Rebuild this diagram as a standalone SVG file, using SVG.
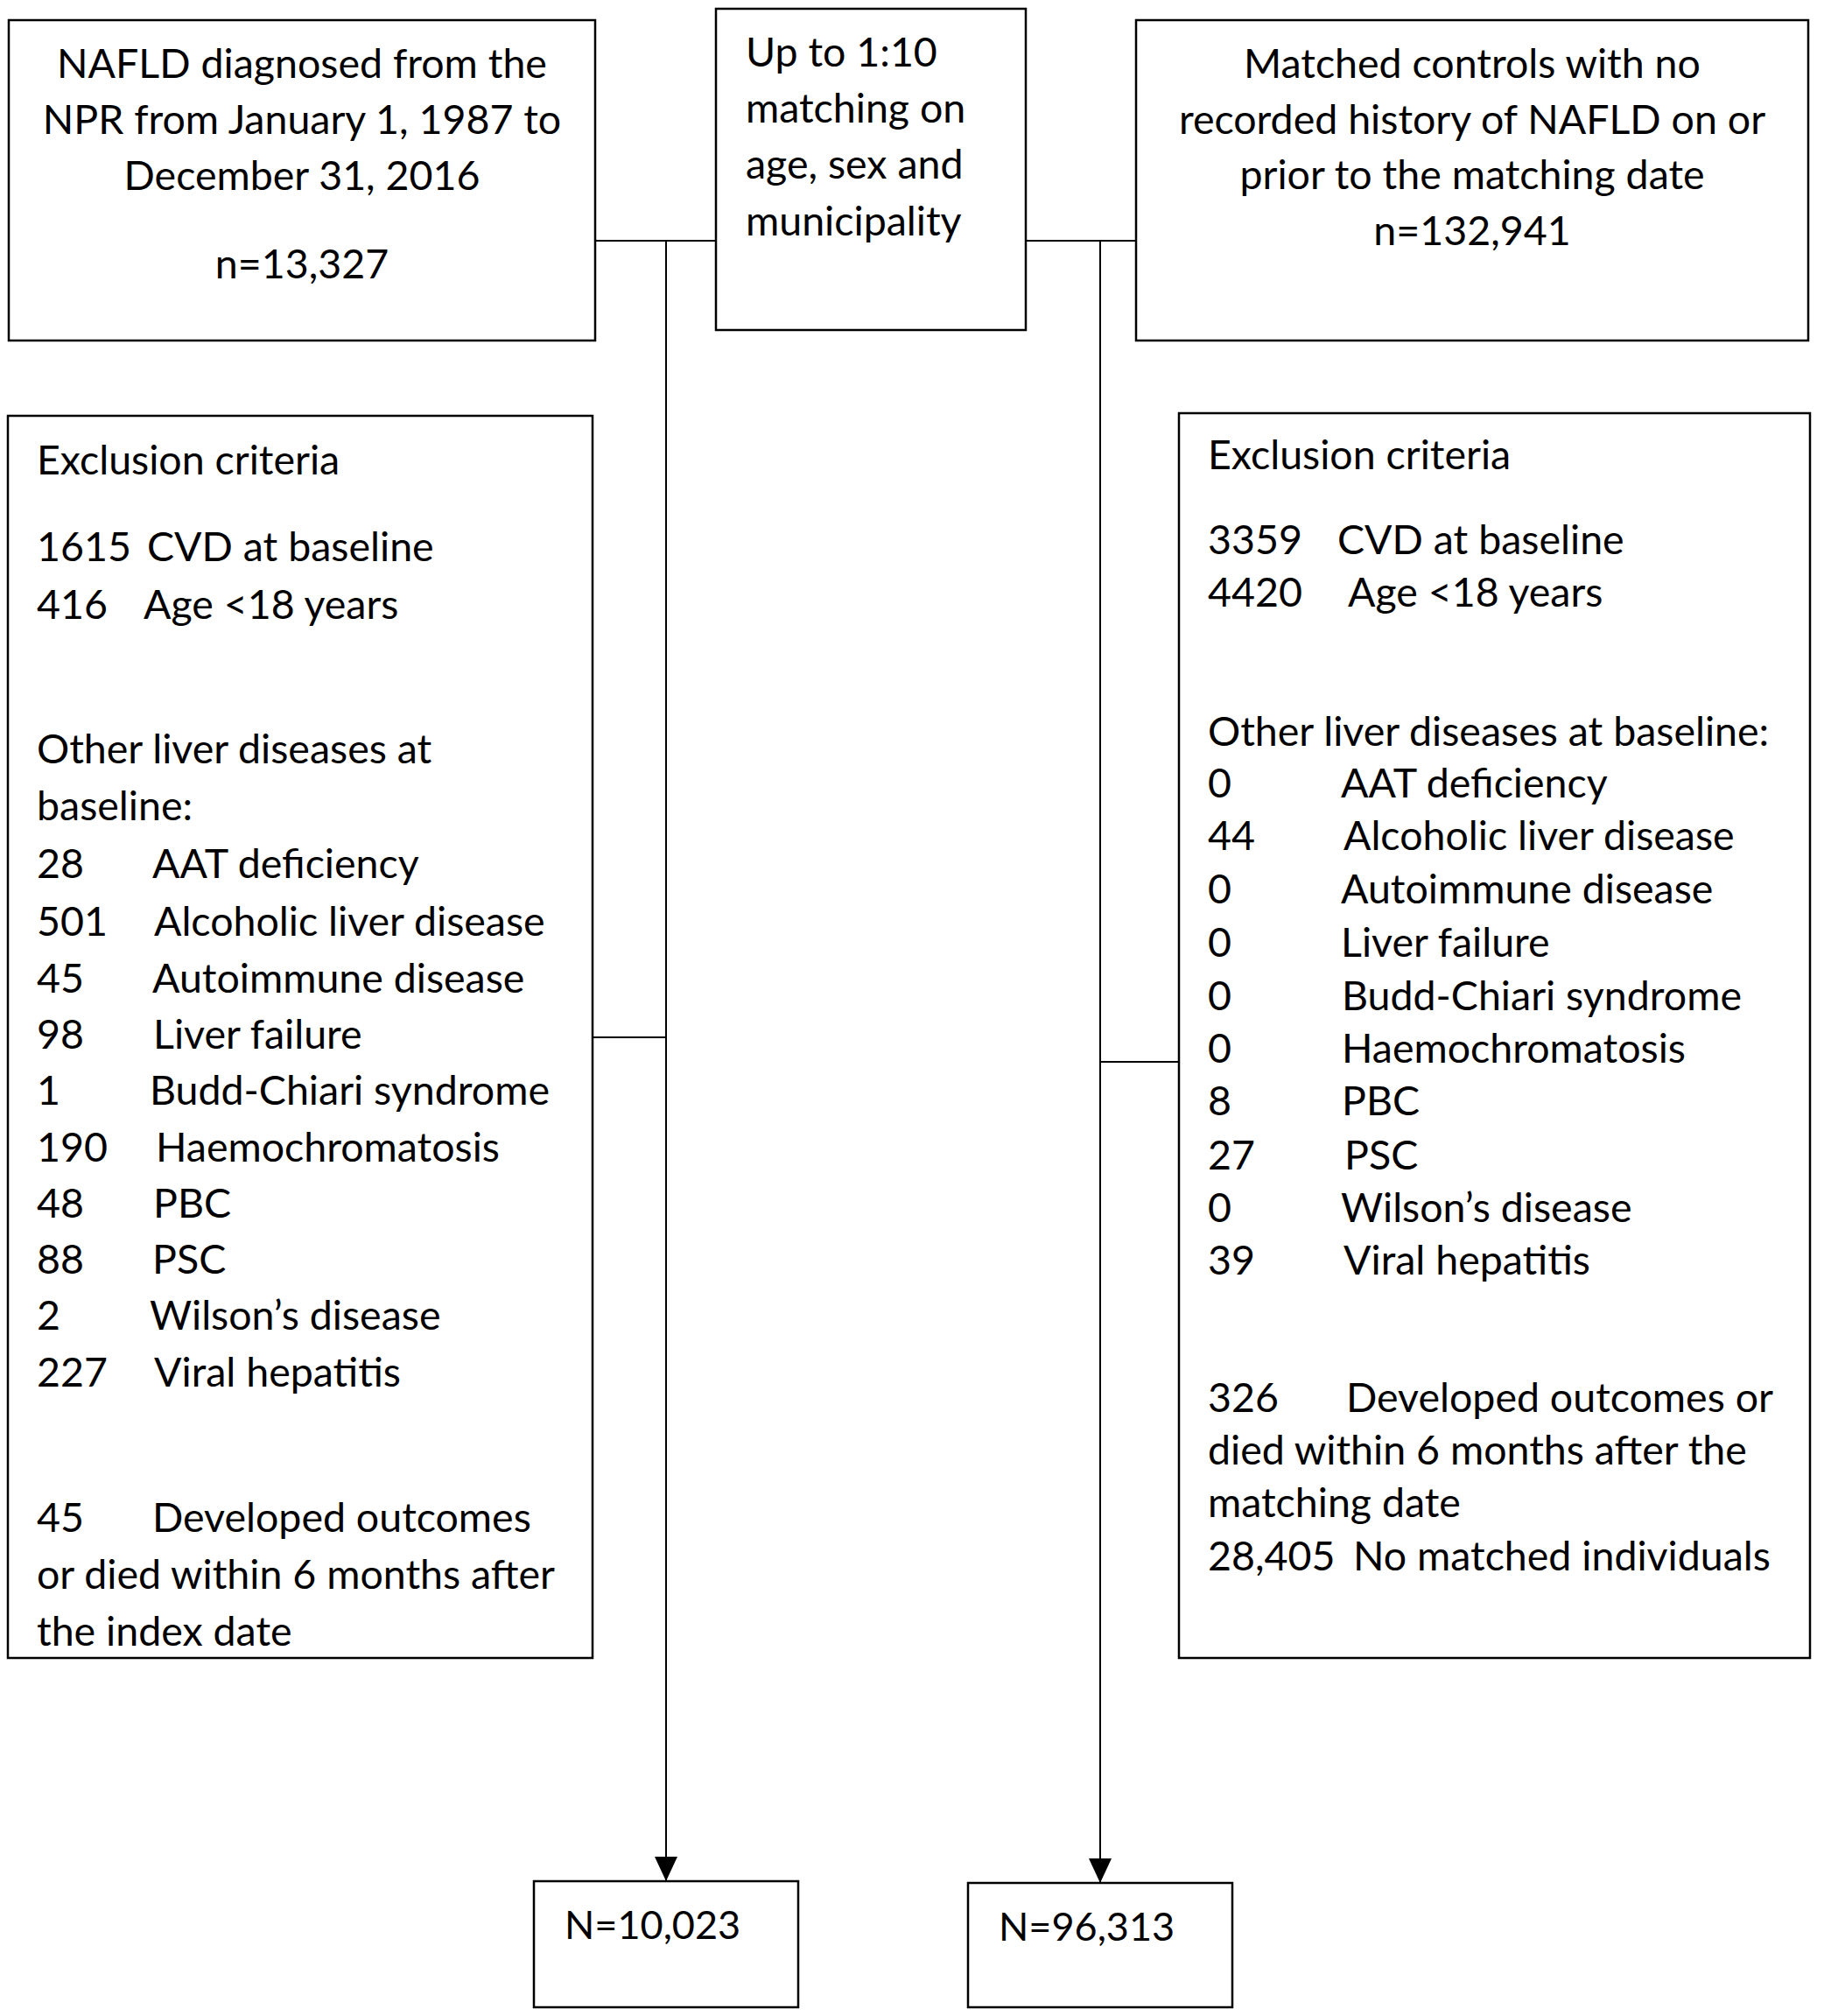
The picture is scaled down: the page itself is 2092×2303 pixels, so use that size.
<svg xmlns="http://www.w3.org/2000/svg" width="2092" height="2303" viewBox="0 0 2092 2303">
<style>
.box{fill:#fff;stroke:#000;stroke-width:2.5}
.ln{fill:none;stroke:#000;stroke-width:2}
.t{font-family:Lato,"Liberation Sans",sans-serif;font-size:46.5px;fill:#000}
.n{font-size:45px}
.c{text-anchor:middle}
</style>
<defs>
<marker id="ah" viewBox="0 0 28 26" refX="28" refY="13" markerWidth="28" markerHeight="26" markerUnits="userSpaceOnUse" orient="auto">
<path d="M0,0 L28,13 L0,26 Z" fill="#000"/>
</marker>
</defs>
<rect width="2092" height="2303" fill="#fff"/>
<g id="connectors">
<line class="ln" x1="680" y1="275" x2="818" y2="275"/>
<line class="ln" x1="1172" y1="275" x2="1298" y2="275"/>
<line class="ln" x1="761" y1="275" x2="761" y2="2149" marker-end="url(#ah)"/>
<line class="ln" x1="1257" y1="275" x2="1257" y2="2151" marker-end="url(#ah)"/>
<line class="ln" x1="677" y1="1185" x2="761" y2="1185"/>
<line class="ln" x1="1257" y1="1213" x2="1347" y2="1213"/>
</g>
<g id="nafld">
<rect class="box" x="10" y="23" width="670" height="366"/>
<text class="t c" x="345" y="89">NAFLD diagnosed from the</text>
<text class="t c" x="345" y="153">NPR from January 1, 1987 to</text>
<text class="t c" x="345" y="217">December 31, 2016</text>
<text class="t c" x="345" y="318">n=13,327</text>
</g>
<g id="matching">
<rect class="box" x="818" y="10" width="354" height="367"/>
<text class="t" x="852" y="76">Up to 1:10</text>
<text class="t" x="852" y="140">matching on</text>
<text class="t" x="852" y="204">age, sex and</text>
<text class="t" x="852" y="269">municipality</text>
</g>
<g id="controls">
<rect class="box" x="1298" y="23" width="768" height="366"/>
<text class="t c" x="1682" y="89">Matched controls with no</text>
<text class="t c" x="1682" y="153">recorded history of NAFLD on or</text>
<text class="t c" x="1682" y="216">prior to the matching date</text>
<text class="t c" x="1682" y="280">n=132,941</text>
</g>
<g id="excl-left">
<rect class="box" x="9" y="475" width="668" height="1419"/>
<text class="t" x="42" y="542">Exclusion criteria</text>
<text class="t" y="641"><tspan x="42">1615</tspan><tspan x="168">CVD at baseline</tspan></text>
<text class="t" y="707"><tspan x="42">416</tspan><tspan x="164">Age &lt;18 years</tspan></text>
<text class="t" x="42" y="872">Other liver diseases at</text>
<text class="t" x="42" y="937">baseline:</text>
<text class="t" y="1003"><tspan x="42">28</tspan><tspan x="174">AAT deficiency</tspan></text>
<text class="t" y="1069"><tspan x="42">501</tspan><tspan x="176">Alcoholic liver disease</tspan></text>
<text class="t" y="1134"><tspan x="42">45</tspan><tspan x="174">Autoimmune disease</tspan></text>
<text class="t" y="1198"><tspan x="42">98</tspan><tspan x="175">Liver failure</tspan></text>
<text class="t" y="1262"><tspan x="42">1</tspan><tspan x="171">Budd-Chiari syndrome</tspan></text>
<text class="t" y="1327"><tspan x="42">190</tspan><tspan x="178">Haemochromatosis</tspan></text>
<text class="t" y="1391"><tspan x="42">48</tspan><tspan x="175">PBC</tspan></text>
<text class="t" y="1455"><tspan x="42">88</tspan><tspan x="174">PSC</tspan></text>
<text class="t" y="1519"><tspan x="42">2</tspan><tspan x="171">Wilson’s disease</tspan></text>
<text class="t" y="1584"><tspan x="42">227</tspan><tspan x="176">Viral hepatitis</tspan></text>
<text class="t" y="1750"><tspan x="42">45</tspan><tspan x="174">Developed outcomes</tspan></text>
<text class="t" x="42" y="1815">or died within 6 months after</text>
<text class="t" x="42" y="1880">the index date</text>
</g>
<g id="excl-right">
<rect class="box" x="1347" y="472" width="721" height="1422"/>
<text class="t" x="1380" y="536">Exclusion criteria</text>
<text class="t" y="633"><tspan x="1380">3359</tspan><tspan x="1528">CVD at baseline</tspan></text>
<text class="t" y="693"><tspan x="1380">4420</tspan><tspan x="1540">Age &lt;18 years</tspan></text>
<text class="t" x="1380" y="852">Other liver diseases at baseline:</text>
<text class="t" y="911"><tspan x="1380">0</tspan><tspan x="1532">AAT deficiency</tspan></text>
<text class="t" y="971"><tspan x="1380">44</tspan><tspan x="1535">Alcoholic liver disease</tspan></text>
<text class="t" y="1032"><tspan x="1380">0</tspan><tspan x="1532">Autoimmune disease</tspan></text>
<text class="t" y="1093"><tspan x="1380">0</tspan><tspan x="1532">Liver failure</tspan></text>
<text class="t" y="1154"><tspan x="1380">0</tspan><tspan x="1533">Budd-Chiari syndrome</tspan></text>
<text class="t" y="1214"><tspan x="1380">0</tspan><tspan x="1533">Haemochromatosis</tspan></text>
<text class="t" y="1274"><tspan x="1380">8</tspan><tspan x="1533">PBC</tspan></text>
<text class="t" y="1336"><tspan x="1380">27</tspan><tspan x="1536">PSC</tspan></text>
<text class="t" y="1396"><tspan x="1380">0</tspan><tspan x="1532">Wilson’s disease</tspan></text>
<text class="t" y="1456"><tspan x="1380">39</tspan><tspan x="1535">Viral hepatitis</tspan></text>
<text class="t" y="1613"><tspan x="1380">326</tspan><tspan x="1538">Developed outcomes or</tspan></text>
<text class="t" x="1380" y="1673">died within 6 months after the</text>
<text class="t" x="1380" y="1733">matching date</text>
<text class="t" y="1794"><tspan x="1380">28,405</tspan><tspan x="1546">No matched individuals</tspan></text>
</g>
<g id="final-nafld">
<rect class="box" x="610" y="2149" width="302" height="144"/>
<text class="t n" x="645" y="2215">N=10,023</text>
</g>
<g id="final-controls">
<rect class="box" x="1106" y="2151" width="302" height="142"/>
<text class="t n" x="1141" y="2217">N=96,313</text>
</g>
</svg>
